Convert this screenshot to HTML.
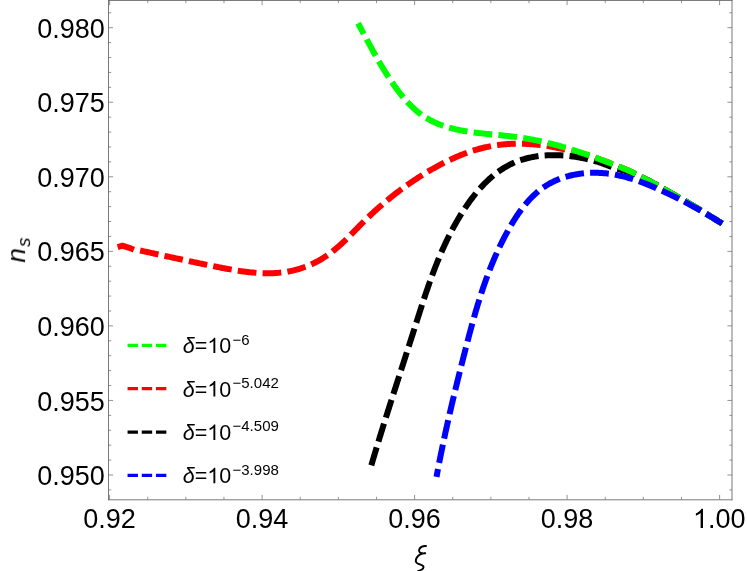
<!DOCTYPE html>
<html><head><meta charset="utf-8"><title>n_s vs xi</title>
<style>html,body{margin:0;padding:0;background:#fff;overflow:hidden}svg{display:block}text{font-family:"Liberation Sans",sans-serif;fill:#000}#txt{opacity:0.999}</style>
</head><body>
<svg width="747" height="571" viewBox="0 0 747 571">
<rect x="0" y="0" width="747" height="571" fill="#ffffff"/>
<path d="M109.60 499.50 V494.90 M109.60 0.50 V5.10 M147.73 499.50 V496.80 M147.73 0.50 V3.20 M185.85 499.50 V496.80 M185.85 0.50 V3.20 M223.98 499.50 V496.80 M223.98 0.50 V3.20 M262.10 499.50 V494.90 M262.10 0.50 V5.10 M300.23 499.50 V496.80 M300.23 0.50 V3.20 M338.35 499.50 V496.80 M338.35 0.50 V3.20 M376.48 499.50 V496.80 M376.48 0.50 V3.20 M414.60 499.50 V494.90 M414.60 0.50 V5.10 M452.73 499.50 V496.80 M452.73 0.50 V3.20 M490.85 499.50 V496.80 M490.85 0.50 V3.20 M528.98 499.50 V496.80 M528.98 0.50 V3.20 M567.10 499.50 V494.90 M567.10 0.50 V5.10 M605.23 499.50 V496.80 M605.23 0.50 V3.20 M643.35 499.50 V496.80 M643.35 0.50 V3.20 M681.47 499.50 V496.80 M681.47 0.50 V3.20 M719.60 499.50 V494.90 M719.60 0.50 V5.10 M108.50 489.91 H111.20 M732.00 489.91 H729.30 M108.50 475.00 H113.10 M732.00 475.00 H727.40 M108.50 460.09 H111.20 M732.00 460.09 H729.30 M108.50 445.18 H111.20 M732.00 445.18 H729.30 M108.50 430.27 H111.20 M732.00 430.27 H729.30 M108.50 415.36 H111.20 M732.00 415.36 H729.30 M108.50 400.45 H113.10 M732.00 400.45 H727.40 M108.50 385.54 H111.20 M732.00 385.54 H729.30 M108.50 370.63 H111.20 M732.00 370.63 H729.30 M108.50 355.72 H111.20 M732.00 355.72 H729.30 M108.50 340.81 H111.20 M732.00 340.81 H729.30 M108.50 325.90 H113.10 M732.00 325.90 H727.40 M108.50 310.99 H111.20 M732.00 310.99 H729.30 M108.50 296.08 H111.20 M732.00 296.08 H729.30 M108.50 281.17 H111.20 M732.00 281.17 H729.30 M108.50 266.26 H111.20 M732.00 266.26 H729.30 M108.50 251.35 H113.10 M732.00 251.35 H727.40 M108.50 236.44 H111.20 M732.00 236.44 H729.30 M108.50 221.53 H111.20 M732.00 221.53 H729.30 M108.50 206.62 H111.20 M732.00 206.62 H729.30 M108.50 191.71 H111.20 M732.00 191.71 H729.30 M108.50 176.80 H113.10 M732.00 176.80 H727.40 M108.50 161.89 H111.20 M732.00 161.89 H729.30 M108.50 146.98 H111.20 M732.00 146.98 H729.30 M108.50 132.07 H111.20 M732.00 132.07 H729.30 M108.50 117.16 H111.20 M732.00 117.16 H729.30 M108.50 102.25 H113.10 M732.00 102.25 H727.40 M108.50 87.34 H111.20 M732.00 87.34 H729.30 M108.50 72.43 H111.20 M732.00 72.43 H729.30 M108.50 57.52 H111.20 M732.00 57.52 H729.30 M108.50 42.61 H111.20 M732.00 42.61 H729.30 M108.50 27.70 H113.10 M732.00 27.70 H727.40 M108.50 12.79 H111.20 M732.00 12.79 H729.30" stroke="#666666" stroke-width="0.7" fill="none"/>
<path d="M108.50 0 V500.24 M108.06 0.47 H732.44 M732.00 0 V500.24 M108.06 499.80 H732.44" stroke="#666666" stroke-width="0.88" fill="none"/>
<path d="M719.60 221.99 L718.75 221.46 L717.90 220.93 L717.05 220.41 L716.20 219.88 L715.35 219.36 L714.50 218.84 L713.64 218.31 L712.79 217.80 L711.93 217.28 L711.08 216.76 L710.22 216.25 L709.37 215.72 L708.52 215.19 L707.67 214.66 L706.82 214.13 L705.97 213.61 L705.12 213.08 L704.27 212.56 L703.42 212.04 L702.56 211.52 L701.71 211.00 L700.85 210.48 L699.99 209.97 L699.14 209.44 L698.29 208.92 L697.44 208.39 L696.59 207.87 L695.73 207.35 L694.88 206.83 L694.02 206.32 L693.16 205.80 L692.31 205.29 L691.45 204.78 L690.59 204.27 L689.73 203.76 L688.86 203.25 L688.00 202.75 L687.14 202.24 L686.27 201.74 L685.41 201.24 L684.54 200.74 L683.67 200.24 L682.80 199.75 L681.93 199.25 L681.06 198.76 L680.19 198.27 L679.33 197.77 L678.46 197.27 L677.59 196.77 L676.72 196.28 L675.86 195.78 L674.99 195.29 L674.12 194.80 L673.24 194.31 L672.37 193.82 L671.50 193.33 L670.62 192.85 L669.75 192.36 L668.88 191.86 L668.02 191.36 L667.15 190.86 L666.28 190.36 L665.41 189.87 L664.54 189.38 L663.67 188.88 L662.80 188.39 L661.93 187.91 L661.05 187.42 L660.18 186.94 L659.31 186.44 L658.44 185.95 L657.57 185.46 L656.70 184.97 L655.83 184.48 L654.95 183.99 L654.08 183.51 L653.20 183.03 L652.32 182.55 L651.44 182.07 L650.56 181.60 L649.68 181.13 L648.78 180.68 L647.89 180.23 L647.00 179.78 L646.10 179.34 L645.21 178.90 L644.31 178.46 L643.41 178.02 L642.50 177.59 L641.60 177.16 L640.69 176.74 L639.79 176.31 L638.91 175.83 L638.03 175.36 L637.16 174.88 L636.28 174.40 L635.39 173.93 L634.51 173.46 L633.62 173.01 L632.73 172.55 L631.83 172.11 L630.93 171.67 L630.03 171.25 L629.12 170.83 L628.20 170.43 L627.28 170.03 L626.36 169.65 L625.44 169.26 L624.51 168.89 L623.58 168.52 L622.66 168.14 L621.73 167.77 L620.80 167.39 L619.87 167.02 L618.94 166.65 L618.02 166.28 L617.09 165.91 L616.16 165.54 L615.23 165.18 L614.30 164.81 L613.36 164.45 L612.43 164.08 L611.50 163.72 L610.57 163.36 L609.64 163.00 L608.70 162.64 L607.77 162.28 L606.84 161.92 L605.90 161.56 L604.97 161.21 L604.03 160.85 L603.10 160.50 L602.16 160.14 L601.23 159.79 L600.29 159.44 L599.35 159.09 L598.41 158.75 L597.48 158.40 L596.54 158.05 L595.60 157.71 L594.65 157.38 L593.70 157.07 L592.75 156.77 L591.80 156.46 L590.84 156.16 L589.89 155.86 L588.94 155.56 L587.98 155.27 L587.03 154.97 L586.07 154.68 L585.11 154.39 L584.15 154.12 L583.19 153.86 L582.22 153.60 L581.25 153.34 L580.29 153.08 L579.32 152.83 L578.35 152.58 L577.38 152.33 L576.41 152.08 L575.44 151.84 L574.47 151.60 L573.50 151.37 L572.53 151.14 L571.55 150.91 L570.58 150.69 L569.60 150.47 L568.63 150.25 L567.65 150.03 L566.67 149.82 L565.70 149.60 L564.72 149.39 L563.74 149.18 L562.76 148.97 L561.79 148.76 L560.81 148.56 L559.83 148.36 L558.85 148.16 L557.87 147.97 L556.89 147.77 L555.91 147.57 L554.93 147.38 L553.94 147.19 L552.96 147.00 L551.98 146.81 L551.00 146.63 L550.01 146.44 L549.03 146.27 L548.04 146.09 L547.06 145.94 L546.07 145.79 L545.08 145.64 L544.09 145.50 L543.10 145.36 L542.11 145.23 L541.12 145.10 L540.12 145.00 L539.13 144.90 L538.13 144.80 L537.13 144.71 L536.14 144.61 L535.14 144.53 L534.15 144.44 L533.15 144.36 L532.15 144.28 L531.16 144.21 L530.16 144.14 L529.16 144.07 L528.16 144.01 L527.16 143.96 L526.16 143.91 L525.17 143.86 L524.17 143.83 L523.17 143.79 L522.17 143.77 L521.17 143.74 L520.17 143.73 L519.17 143.72 L518.17 143.72 L517.17 143.72 L516.17 143.73 L515.17 143.75 L514.17 143.77 L513.17 143.79 L512.17 143.83 L511.17 143.87 L510.17 143.92 L509.17 143.97 L508.17 144.03 L507.18 144.10 L506.18 144.17 L505.18 144.25 L504.19 144.33 L503.19 144.43 L502.20 144.53 L501.20 144.63 L500.21 144.75 L499.21 144.87 L498.22 144.99 L497.23 145.13 L496.24 145.27 L495.25 145.42 L494.27 145.57 L493.28 145.74 L492.29 145.91 L491.31 146.08 L490.33 146.27 L489.34 146.46 L488.36 146.66 L487.39 146.86 L486.41 147.07 L485.43 147.29 L484.46 147.52 L483.49 147.75 L482.52 147.99 L481.55 148.24 L480.58 148.49 L479.61 148.75 L478.65 149.01 L477.69 149.28 L476.72 149.56 L475.77 149.85 L474.81 150.14 L473.85 150.43 L472.90 150.73 L471.95 151.04 L471.00 151.35 L470.05 151.67 L469.10 152.00 L468.16 152.33 L467.22 152.66 L466.28 153.00 L465.34 153.35 L464.40 153.70 L463.47 154.05 L462.54 154.42 L461.61 154.78 L460.68 155.15 L459.75 155.53 L458.83 155.91 L457.90 156.30 L456.98 156.69 L456.06 157.08 L455.15 157.48 L454.23 157.88 L453.32 158.29 L452.41 158.70 L451.50 159.12 L450.59 159.54 L449.69 159.97 L448.78 160.40 L447.88 160.83 L446.98 161.27 L446.09 161.71 L445.19 162.15 L444.30 162.60 L443.41 163.05 L442.52 163.51 L441.63 163.97 L440.74 164.43 L439.86 164.90 L438.98 165.37 L438.09 165.85 L437.22 166.32 L436.34 166.80 L435.46 167.29 L434.59 167.78 L433.72 168.27 L432.85 168.76 L431.98 169.26 L431.12 169.76 L430.25 170.26 L429.39 170.76 L428.53 171.27 L427.67 171.78 L426.81 172.30 L425.95 172.81 L425.10 173.33 L424.25 173.86 L423.40 174.38 L422.55 174.91 L421.70 175.44 L420.85 175.97 L420.01 176.51 L419.16 177.04 L418.32 177.58 L417.48 178.13 L416.64 178.67 L415.81 179.22 L414.97 179.77 L414.14 180.32 L413.31 180.88 L412.48 181.44 L411.65 182.00 L410.82 182.56 L410.00 183.13 L409.18 183.69 L408.35 184.26 L407.53 184.84 L406.72 185.41 L405.90 185.99 L405.09 186.57 L404.27 187.15 L403.46 187.74 L402.65 188.33 L401.85 188.92 L401.04 189.51 L400.24 190.11 L399.44 190.70 L398.64 191.30 L397.84 191.91 L397.04 192.51 L396.25 193.12 L395.46 193.73 L394.67 194.34 L393.88 194.96 L393.09 195.58 L392.31 196.19 L391.52 196.82 L390.74 197.44 L389.96 198.07 L389.19 198.70 L388.41 199.33 L387.64 199.96 L386.87 200.60 L386.10 201.24 L385.33 201.88 L384.56 202.52 L383.80 203.17 L383.04 203.82 L382.28 204.47 L381.52 205.12 L380.76 205.77 L380.01 206.43 L379.26 207.09 L378.51 207.75 L377.76 208.41 L377.01 209.08 L376.27 209.75 L375.53 210.42 L374.79 211.09 L374.05 211.76 L373.31 212.44 L372.58 213.12 L371.85 213.80 L371.12 214.48 L370.39 215.17 L369.66 215.86 L368.94 216.55 L368.21 217.24 L367.49 217.93 L366.78 218.63 L366.06 219.33 L365.35 220.02 L364.63 220.73 L363.92 221.43 L363.21 222.14 L362.51 222.84 L361.80 223.55 L361.10 224.26 L360.40 224.97 L359.69 225.69 L358.99 226.40 L358.29 227.11 L357.59 227.83 L356.89 228.54 L356.20 229.26 L355.50 229.97 L354.80 230.69 L354.10 231.40 L353.40 232.12 L352.70 232.83 L352.00 233.54 L351.29 234.26 L350.59 234.97 L349.88 235.67 L349.18 236.38 L348.47 237.09 L347.76 237.79 L347.04 238.49 L346.33 239.19 L345.61 239.89 L344.89 240.58 L344.17 241.28 L343.45 241.96 L342.72 242.65 L341.99 243.33 L341.25 244.01 L340.51 244.68 L339.77 245.35 L339.02 246.02 L338.27 246.68 L337.52 247.34 L336.76 247.99 L336.00 248.63 L335.23 249.27 L334.46 249.91 L333.68 250.54 L332.90 251.16 L332.11 251.78 L331.32 252.39 L330.52 252.99 L329.71 253.58 L328.91 254.17 L328.09 254.75 L327.27 255.32 L326.45 255.89 L325.61 256.44 L324.78 256.99 L323.93 257.53 L323.09 258.06 L322.23 258.58 L321.38 259.10 L320.51 259.60 L319.65 260.10 L318.77 260.59 L317.90 261.07 L317.01 261.54 L316.13 262.00 L315.24 262.45 L314.34 262.90 L313.44 263.34 L312.54 263.76 L311.63 264.18 L310.71 264.59 L309.80 264.99 L308.88 265.38 L307.95 265.76 L307.03 266.14 L306.09 266.50 L305.16 266.85 L304.22 267.20 L303.28 267.53 L302.33 267.86 L301.39 268.18 L300.43 268.49 L299.48 268.78 L298.52 269.07 L297.56 269.35 L296.60 269.62 L295.63 269.88 L294.66 270.13 L293.69 270.37 L292.72 270.60 L291.74 270.82 L290.77 271.03 L289.79 271.23 L288.81 271.42 L287.82 271.60 L286.84 271.77 L285.85 271.93 L284.86 272.08 L283.87 272.23 L282.88 272.36 L281.89 272.48 L280.89 272.59 L279.90 272.70 L278.90 272.79 L277.91 272.88 L276.91 272.95 L275.91 273.02 L274.91 273.08 L273.92 273.13 L272.92 273.18 L271.92 273.21 L270.92 273.24 L269.92 273.26 L268.92 273.27 L267.92 273.28 L266.92 273.28 L265.92 273.27 L264.92 273.25 L263.92 273.23 L262.92 273.20 L261.92 273.16 L260.92 273.12 L259.92 273.07 L258.92 273.02 L257.93 272.96 L256.93 272.89 L255.93 272.82 L254.93 272.74 L253.94 272.66 L252.94 272.57 L251.94 272.48 L250.95 272.38 L249.95 272.28 L248.96 272.17 L247.97 272.06 L246.97 271.94 L245.98 271.82 L244.99 271.70 L244.00 271.57 L243.01 271.43 L242.02 271.30 L241.03 271.16 L240.04 271.01 L239.05 270.87 L238.06 270.71 L237.07 270.56 L236.08 270.40 L235.10 270.24 L234.11 270.08 L233.12 269.91 L232.14 269.74 L231.15 269.57 L230.17 269.40 L229.18 269.22 L228.20 269.05 L227.22 268.87 L226.23 268.68 L225.25 268.50 L224.27 268.31 L223.28 268.13 L222.30 267.94 L221.32 267.75 L220.34 267.56 L219.36 267.36 L218.38 267.17 L217.40 266.97 L216.42 266.78 L215.43 266.58 L214.45 266.38 L213.47 266.19 L212.49 265.99 L211.51 265.79 L210.53 265.59 L209.55 265.39 L208.57 265.19 L207.60 264.99 L206.62 264.79 L205.64 264.58 L204.66 264.38 L203.68 264.18 L202.70 263.98 L201.72 263.77 L200.74 263.57 L199.76 263.37 L198.78 263.16 L197.80 262.96 L196.82 262.75 L195.85 262.55 L194.87 262.34 L193.89 262.13 L192.91 261.93 L191.93 261.72 L190.95 261.51 L189.98 261.31 L189.00 261.10 L188.02 260.89 L187.04 260.68 L186.06 260.47 L185.09 260.26 L184.11 260.06 L183.13 259.85 L182.15 259.64 L181.17 259.43 L180.20 259.22 L179.22 259.01 L178.24 258.80 L177.26 258.59 L176.29 258.37 L175.31 258.16 L174.33 257.95 L173.35 257.74 L172.38 257.53 L171.40 257.32 L170.42 257.11 L169.44 256.89 L168.47 256.68 L167.49 256.47 L166.51 256.26 L165.54 256.05 L164.56 255.83 L163.58 255.62 L162.60 255.41 L161.63 255.20 L160.65 254.98 L159.67 254.77 L158.70 254.56 L157.72 254.35 L156.74 254.13 L155.76 253.92 L154.79 253.71 L153.81 253.50 L152.83 253.28 L151.86 253.07 L150.88 252.86 L149.90 252.65 L148.92 252.43 L147.95 252.22 L146.97 252.01 L145.99 251.80 L145.01 251.58 L144.04 251.37 L143.06 251.16 L142.08 250.95 L141.11 250.74 L140.13 250.53 L139.15 250.32 L138.17 250.10 L137.20 249.89 L136.22 249.68 L135.24 249.47 L134.26 249.26 L133.29 249.05 L132.31 248.84 L131.33 248.63 L130.46 248.25 L129.50 247.94 L128.55 247.64 L127.60 247.34 L126.64 247.04 L125.69 246.74 L124.74 246.44 L123.78 246.14 L122.83 245.84 L121.86 245.85 L120.90 246.12 L120.51 246.23" fill="none" stroke="#ff0000" stroke-width="6.00" stroke-dasharray="12.75 12.18" stroke-dashoffset="0.00" stroke-linecap="square" stroke-linejoin="miter"/>
<path d="M719.60 221.99 L718.75 221.46 L717.90 220.93 L717.05 220.41 L716.20 219.88 L715.35 219.36 L714.50 218.84 L713.64 218.31 L712.79 217.80 L711.93 217.28 L711.08 216.76 L710.22 216.25 L709.37 215.72 L708.52 215.19 L707.67 214.66 L706.82 214.13 L705.97 213.61 L705.12 213.08 L704.27 212.56 L703.42 212.04 L702.56 211.52 L701.71 211.00 L700.85 210.48 L699.99 209.97 L699.14 209.44 L698.29 208.92 L697.44 208.39 L696.59 207.87 L695.73 207.35 L694.88 206.83 L694.02 206.32 L693.16 205.80 L692.31 205.29 L691.45 204.78 L690.59 204.27 L689.73 203.76 L688.86 203.25 L688.00 202.75 L687.14 202.24 L686.27 201.74 L685.41 201.24 L684.54 200.74 L683.67 200.24 L682.80 199.75 L681.93 199.25 L681.06 198.76 L680.19 198.27 L679.33 197.77 L678.46 197.27 L677.59 196.77 L676.72 196.28 L675.86 195.78 L674.99 195.29 L674.12 194.80 L673.24 194.31 L672.37 193.82 L671.50 193.33 L670.62 192.85 L669.75 192.36 L668.88 191.86 L668.02 191.36 L667.15 190.86 L666.28 190.36 L665.41 189.87 L664.54 189.38 L663.67 188.88 L662.80 188.39 L661.93 187.91 L661.05 187.42 L660.18 186.94 L659.31 186.44 L658.44 185.95 L657.57 185.46 L656.70 184.97 L655.83 184.48 L654.95 183.99 L654.08 183.51 L653.20 183.03 L652.32 182.55 L651.44 182.07 L650.56 181.60 L649.68 181.13 L648.78 180.68 L647.89 180.23 L646.98 179.81 L646.07 179.40 L645.16 178.98 L644.25 178.57 L643.34 178.17 L642.42 177.76 L641.51 177.36 L640.59 176.97 L639.67 176.57 L638.77 176.14 L637.86 175.71 L636.96 175.29 L636.05 174.86 L635.14 174.44 L634.23 174.03 L633.32 173.63 L632.39 173.26 L631.45 172.91 L630.51 172.58 L629.56 172.26 L628.61 171.96 L627.65 171.66 L626.70 171.37 L625.73 171.09 L624.77 170.82 L623.81 170.56 L622.85 170.29 L621.88 170.02 L620.92 169.75 L619.95 169.48 L618.99 169.22 L618.03 168.96 L617.06 168.69 L616.12 168.37 L615.17 168.03 L614.23 167.70 L613.28 167.37 L612.34 167.05 L611.40 166.72 L610.45 166.38 L609.51 166.05 L608.57 165.71 L607.63 165.37 L606.69 165.03 L605.75 164.68 L604.81 164.33 L603.88 163.99 L602.94 163.64 L602.00 163.30 L601.06 162.97 L600.11 162.64 L599.16 162.32 L598.21 162.01 L597.25 161.72 L596.29 161.44 L595.33 161.17 L594.37 160.91 L593.40 160.65 L592.43 160.40 L591.47 160.15 L590.50 159.90 L589.52 159.66 L588.55 159.43 L587.58 159.20 L586.60 158.97 L585.63 158.76 L584.65 158.54 L583.67 158.34 L582.69 158.14 L581.71 157.94 L580.73 157.75 L579.75 157.57 L578.76 157.39 L577.78 157.22 L576.79 157.05 L575.81 156.90 L574.82 156.74 L573.83 156.60 L572.84 156.46 L571.85 156.33 L570.85 156.20 L569.86 156.08 L568.87 155.97 L567.87 155.86 L566.88 155.77 L565.88 155.68 L564.89 155.59 L563.89 155.51 L562.89 155.44 L561.89 155.38 L560.89 155.33 L559.90 155.28 L558.90 155.24 L557.90 155.20 L556.90 155.18 L555.90 155.16 L554.90 155.15 L553.90 155.14 L552.90 155.15 L551.90 155.16 L550.90 155.18 L549.90 155.21 L548.90 155.24 L547.90 155.29 L546.90 155.34 L545.90 155.40 L544.91 155.47 L543.91 155.55 L542.91 155.63 L541.92 155.73 L540.92 155.83 L539.93 155.94 L538.94 156.07 L537.94 156.20 L536.95 156.33 L535.97 156.48 L534.98 156.64 L533.99 156.81 L533.01 156.99 L532.03 157.17 L531.04 157.37 L530.07 157.58 L529.09 157.79 L528.12 158.02 L527.14 158.26 L526.18 158.51 L525.21 158.76 L524.25 159.03 L523.29 159.31 L522.33 159.60 L521.38 159.90 L520.43 160.22 L519.48 160.54 L518.54 160.88 L517.60 161.22 L516.67 161.58 L515.74 161.95 L514.81 162.33 L513.89 162.73 L512.98 163.13 L512.07 163.55 L511.17 163.98 L510.27 164.42 L509.38 164.87 L508.49 165.33 L507.61 165.80 L506.73 166.29 L505.87 166.78 L505.00 167.29 L504.15 167.80 L503.29 168.33 L502.45 168.86 L501.61 169.41 L500.78 169.96 L499.95 170.52 L499.13 171.10 L498.32 171.68 L497.51 172.27 L496.71 172.86 L495.91 173.47 L495.12 174.08 L494.34 174.71 L493.56 175.34 L492.79 175.97 L492.03 176.62 L491.27 177.27 L490.52 177.93 L489.77 178.59 L489.03 179.26 L488.29 179.94 L487.57 180.63 L486.84 181.32 L486.13 182.02 L485.42 182.72 L484.71 183.43 L484.01 184.14 L483.32 184.86 L482.63 185.59 L481.94 186.32 L481.27 187.05 L480.59 187.79 L479.93 188.54 L479.27 189.29 L478.61 190.04 L477.96 190.80 L477.31 191.56 L476.67 192.33 L476.03 193.10 L475.40 193.88 L474.78 194.66 L474.16 195.44 L473.54 196.23 L472.93 197.02 L472.32 197.81 L471.72 198.61 L471.12 199.41 L470.52 200.22 L469.93 201.02 L469.35 201.84 L468.77 202.65 L468.19 203.47 L467.62 204.28 L467.05 205.11 L466.48 205.93 L465.92 206.76 L465.36 207.59 L464.81 208.42 L464.26 209.26 L463.71 210.10 L463.17 210.94 L462.63 211.78 L462.10 212.62 L461.56 213.47 L461.04 214.32 L460.51 215.17 L459.99 216.02 L459.47 216.88 L458.96 217.74 L458.44 218.59 L457.94 219.46 L457.43 220.32 L456.93 221.18 L456.43 222.05 L455.94 222.92 L455.45 223.79 L454.96 224.66 L454.47 225.54 L453.99 226.41 L453.51 227.29 L453.04 228.17 L452.56 229.05 L452.09 229.94 L451.63 230.82 L451.16 231.71 L450.70 232.60 L450.25 233.49 L449.79 234.38 L449.34 235.27 L448.90 236.16 L448.45 237.06 L448.01 237.96 L447.57 238.85 L447.13 239.75 L446.70 240.65 L446.27 241.56 L445.84 242.46 L445.42 243.37 L444.99 244.27 L444.57 245.18 L444.16 246.09 L443.74 247.00 L443.33 247.91 L442.92 248.82 L442.51 249.74 L442.11 250.65 L441.71 251.57 L441.31 252.48 L440.91 253.40 L440.52 254.32 L440.13 255.24 L439.74 256.16 L439.35 257.08 L438.97 258.01 L438.58 258.93 L438.20 259.86 L437.83 260.78 L437.45 261.71 L437.08 262.64 L436.71 263.56 L436.34 264.49 L435.97 265.42 L435.60 266.36 L435.24 267.29 L434.88 268.22 L434.52 269.15 L434.16 270.09 L433.81 271.02 L433.45 271.96 L433.10 272.89 L432.75 273.83 L432.40 274.77 L432.05 275.70 L431.71 276.64 L431.37 277.58 L431.02 278.52 L430.68 279.46 L430.35 280.40 L430.01 281.34 L429.67 282.29 L429.34 283.23 L429.01 284.17 L428.67 285.12 L428.34 286.06 L428.02 287.00 L427.69 287.95 L427.36 288.89 L427.04 289.84 L426.71 290.79 L426.39 291.73 L426.07 292.68 L425.75 293.63 L425.43 294.57 L425.11 295.52 L424.79 296.47 L424.48 297.42 L424.16 298.37 L423.85 299.32 L423.53 300.27 L423.22 301.22 L422.91 302.17 L422.60 303.12 L422.29 304.07 L421.98 305.02 L421.67 305.97 L421.36 306.92 L421.05 307.87 L420.74 308.82 L420.44 309.78 L420.13 310.73 L419.83 311.68 L419.52 312.63 L419.21 313.58 L418.91 314.54 L418.61 315.49 L418.30 316.44 L418.00 317.39 L417.69 318.35 L417.39 319.30 L417.09 320.25 L416.79 321.21 L416.48 322.16 L416.18 323.11 L415.88 324.07 L415.57 325.02 L415.27 325.97 L414.97 326.92 L414.67 327.88 L414.36 328.83 L414.06 329.78 L413.76 330.74 L413.45 331.69 L413.15 332.64 L412.85 333.59 L412.54 334.55 L412.24 335.50 L411.93 336.45 L411.63 337.40 L411.32 338.36 L411.02 339.31 L410.71 340.26 L410.41 341.21 L410.10 342.17 L409.80 343.12 L409.49 344.07 L409.19 345.02 L408.88 345.98 L408.57 346.93 L408.27 347.88 L407.96 348.83 L407.66 349.78 L407.35 350.74 L407.04 351.69 L406.74 352.64 L406.43 353.59 L406.12 354.54 L405.82 355.49 L405.51 356.45 L405.20 357.40 L404.89 358.35 L404.59 359.30 L404.28 360.25 L403.97 361.20 L403.67 362.16 L403.36 363.11 L403.05 364.06 L402.75 365.01 L402.44 365.96 L402.13 366.91 L401.82 367.87 L401.52 368.82 L401.21 369.77 L400.90 370.72 L400.59 371.67 L400.29 372.62 L399.98 373.58 L399.67 374.53 L399.37 375.48 L399.06 376.43 L398.75 377.38 L398.44 378.33 L398.14 379.29 L397.83 380.24 L397.52 381.19 L397.22 382.14 L396.91 383.09 L396.60 384.04 L396.30 385.00 L395.99 385.95 L395.69 386.90 L395.38 387.85 L395.07 388.80 L394.77 389.76 L394.46 390.71 L394.15 391.66 L393.85 392.61 L393.54 393.57 L393.24 394.52 L392.93 395.47 L392.63 396.42 L392.32 397.37 L392.02 398.33 L391.71 399.28 L391.41 400.23 L391.10 401.18 L390.80 402.14 L390.50 403.09 L390.19 404.04 L389.89 405.00 L389.59 405.95 L389.28 406.90 L388.98 407.85 L388.68 408.81 L388.37 409.76 L388.07 410.71 L387.77 411.67 L387.47 412.62 L387.17 413.57 L386.86 414.53 L386.56 415.48 L386.26 416.43 L385.96 417.39 L385.66 418.34 L385.36 419.30 L385.06 420.25 L384.76 421.20 L384.46 422.16 L384.16 423.11 L383.86 424.07 L383.57 425.02 L383.27 425.97 L382.97 426.93 L382.67 427.88 L382.37 428.84 L382.08 429.79 L381.78 430.75 L381.48 431.70 L381.19 432.66 L380.89 433.61 L380.60 434.57 L380.30 435.52 L380.01 436.48 L379.71 437.44 L379.42 438.39 L379.12 439.35 L378.83 440.30 L378.54 441.26 L378.25 442.22 L377.95 443.17 L377.66 444.13 L377.37 445.09 L377.08 446.04 L376.79 447.00 L376.50 447.96 L376.21 448.91 L375.92 449.87 L375.63 450.83 L375.34 451.79 L375.06 452.74 L374.77 453.70 L374.48 454.66 L374.19 455.62 L373.91 456.58 L373.62 457.53 L373.34 458.49 L373.05 459.45 L372.77 460.41 L372.48 461.37 L372.20 462.33 L372.09 462.71" fill="none" stroke="#000000" stroke-width="6.00" stroke-dasharray="12.75 12.18" stroke-dashoffset="0.00" stroke-linecap="square" stroke-linejoin="miter"/>
<path d="M719.60 221.99 L718.75 221.46 L717.90 220.93 L717.05 220.41 L716.20 219.88 L715.35 219.36 L714.50 218.84 L713.64 218.31 L712.79 217.80 L711.93 217.28 L711.08 216.76 L710.22 216.25 L709.37 215.72 L708.52 215.19 L707.67 214.66 L706.82 214.13 L705.97 213.61 L705.12 213.08 L704.27 212.56 L703.42 212.04 L702.56 211.52 L701.71 211.00 L700.85 210.48 L699.99 209.97 L699.14 209.44 L698.29 208.92 L697.44 208.39 L696.59 207.87 L695.73 207.35 L694.88 206.83 L694.02 206.32 L693.16 205.80 L692.31 205.29 L691.45 204.78 L690.59 204.27 L689.73 203.76 L688.86 203.25 L688.00 202.75 L687.14 202.24 L686.27 201.74 L685.41 201.24 L684.54 200.74 L683.67 200.24 L682.80 199.75 L681.93 199.25 L681.06 198.76 L680.19 198.27 L679.33 197.77 L678.46 197.27 L677.59 196.77 L676.72 196.28 L675.86 195.78 L674.99 195.29 L674.12 194.80 L673.24 194.31 L672.37 193.82 L671.50 193.33 L670.62 192.85 L669.75 192.36 L668.88 191.86 L668.02 191.36 L667.15 190.86 L666.28 190.36 L665.41 189.87 L664.54 189.38 L663.67 188.88 L662.80 188.39 L661.93 187.91 L661.05 187.42 L660.18 186.94 L659.31 186.44 L658.44 185.95 L657.57 185.46 L656.70 184.97 L655.83 184.48 L654.95 183.99 L654.08 183.51 L653.20 183.03 L652.32 182.55 L651.44 182.07 L650.56 181.60 L649.68 181.13 L648.78 180.68 L647.89 180.23 L647.00 179.78 L646.10 179.34 L645.21 178.90 L644.31 178.46 L643.41 178.02 L642.50 177.59 L641.60 177.16 L640.69 176.74 L639.79 176.31 L638.91 175.83 L638.03 175.36 L637.16 174.88 L636.28 174.40 L635.39 173.93 L634.51 173.46 L633.62 173.01 L632.73 172.55 L631.83 172.11 L630.93 171.67 L630.03 171.25 L629.12 170.83 L628.20 170.43 L627.28 170.03 L626.36 169.65 L625.44 169.26 L624.51 168.89 L623.58 168.52 L622.66 168.14 L621.73 167.77 L620.80 167.39 L619.87 167.02 L618.94 166.65 L618.02 166.28 L617.09 165.91 L616.16 165.54 L615.23 165.18 L614.30 164.81 L613.36 164.45 L612.43 164.08 L611.50 163.72 L610.57 163.36 L609.64 163.00 L608.70 162.64 L607.77 162.28 L606.84 161.92 L605.90 161.56 L604.97 161.21 L604.03 160.85 L603.10 160.50 L602.16 160.14 L601.23 159.79 L600.29 159.44 L599.35 159.09 L598.41 158.75 L597.48 158.40 L596.54 158.05 L595.60 157.71 L594.66 157.37 L593.72 157.03 L592.78 156.69 L591.84 156.35 L590.90 156.01 L589.95 155.68 L589.01 155.35 L588.07 155.02 L587.12 154.69 L586.18 154.36 L585.23 154.03 L584.29 153.71 L583.34 153.38 L582.39 153.06 L581.45 152.74 L580.50 152.43 L579.55 152.11 L578.60 151.80 L577.65 151.48 L576.70 151.17 L575.75 150.87 L574.79 150.56 L573.84 150.26 L572.89 149.96 L571.93 149.66 L570.98 149.36 L570.02 149.06 L569.07 148.77 L568.11 148.48 L567.15 148.19 L566.20 147.91 L565.24 147.62 L564.28 147.34 L563.32 147.06 L562.36 146.79 L561.39 146.51 L560.43 146.24 L559.47 145.97 L558.50 145.70 L557.54 145.44 L556.57 145.18 L555.61 144.92 L554.64 144.66 L553.67 144.41 L552.71 144.16 L551.74 143.91 L550.77 143.67 L549.80 143.42 L548.83 143.19 L547.86 142.95 L546.88 142.71 L545.91 142.48 L544.94 142.26 L543.96 142.03 L542.99 141.81 L542.01 141.59 L541.04 141.37 L540.06 141.16 L539.08 140.95 L538.10 140.74 L537.12 140.54 L536.14 140.34 L535.16 140.14 L534.18 139.95 L533.20 139.76 L532.22 139.57 L531.24 139.39 L530.25 139.20 L529.27 139.03 L528.28 138.85 L527.30 138.68 L526.31 138.51 L525.33 138.35 L524.34 138.19 L523.35 138.03 L522.36 137.88 L521.37 137.73 L520.39 137.58 L519.40 137.44 L518.41 137.30 L517.41 137.16 L516.42 137.03 L515.43 136.90 L514.44 136.77 L513.45 136.65 L512.45 136.53 L511.46 136.41 L510.47 136.30 L509.47 136.19 L508.48 136.07 L507.49 135.97 L506.49 135.86 L505.50 135.76 L504.50 135.65 L503.51 135.55 L502.51 135.45 L501.52 135.35 L500.52 135.25 L499.53 135.16 L498.53 135.06 L497.54 134.97 L496.54 134.87 L495.55 134.77 L494.55 134.68 L493.55 134.58 L492.56 134.49 L491.56 134.39 L490.57 134.30 L489.57 134.20 L488.58 134.10 L487.58 134.00 L486.59 133.90 L485.59 133.80 L484.60 133.70 L483.60 133.59 L482.61 133.49 L481.62 133.38 L480.62 133.27 L479.63 133.16 L478.63 133.04 L477.64 132.92 L476.65 132.80 L475.66 132.68 L474.66 132.55 L473.67 132.43 L472.68 132.29 L471.69 132.16 L470.70 132.02 L469.71 131.87 L468.72 131.72 L467.73 131.57 L466.75 131.42 L465.76 131.25 L464.77 131.09 L463.79 130.92 L462.80 130.74 L461.82 130.56 L460.84 130.37 L459.86 130.18 L458.88 129.98 L457.90 129.77 L456.92 129.56 L455.94 129.35 L454.97 129.12 L454.00 128.89 L453.03 128.65 L452.06 128.41 L451.09 128.15 L450.12 127.89 L449.16 127.62 L448.20 127.35 L447.24 127.06 L446.29 126.77 L445.33 126.47 L444.38 126.16 L443.43 125.84 L442.49 125.51 L441.55 125.17 L440.61 124.82 L439.68 124.47 L438.75 124.10 L437.82 123.73 L436.90 123.34 L435.98 122.94 L435.06 122.54 L434.16 122.12 L433.25 121.69 L432.35 121.25 L431.46 120.80 L430.57 120.34 L429.69 119.87 L428.81 119.39 L427.94 118.89 L427.08 118.39 L426.22 117.87 L425.37 117.35 L424.53 116.81 L423.70 116.26 L422.87 115.70 L422.05 115.13 L421.23 114.55 L420.43 113.95 L419.63 113.35 L418.84 112.74 L418.06 112.11 L417.29 111.48 L416.52 110.84 L415.76 110.19 L415.01 109.53 L414.26 108.86 L413.53 108.18 L412.80 107.50 L412.07 106.81 L411.36 106.11 L410.65 105.41 L409.94 104.70 L409.24 103.98 L408.55 103.26 L407.87 102.53 L407.19 101.80 L406.52 101.06 L405.85 100.31 L405.19 99.56 L404.53 98.81 L403.88 98.05 L403.24 97.28 L402.60 96.51 L401.96 95.74 L401.33 94.96 L400.71 94.18 L400.09 93.40 L399.47 92.61 L398.86 91.82 L398.26 91.02 L397.66 90.22 L397.06 89.42 L396.47 88.62 L395.88 87.81 L395.29 87.00 L394.71 86.19 L394.13 85.37 L393.56 84.55 L392.99 83.73 L392.42 82.91 L391.85 82.08 L391.29 81.25 L390.73 80.42 L390.18 79.59 L389.63 78.76 L389.08 77.92 L388.53 77.08 L387.99 76.24 L387.45 75.40 L386.91 74.56 L386.37 73.72 L385.84 72.87 L385.31 72.02 L384.78 71.18 L384.25 70.33 L383.73 69.47 L383.21 68.62 L382.69 67.77 L382.17 66.91 L381.65 66.05 L381.14 65.19 L380.63 64.34 L380.12 63.47 L379.62 62.61 L379.11 61.75 L378.61 60.88 L378.11 60.02 L377.61 59.15 L377.11 58.28 L376.62 57.42 L376.12 56.55 L375.63 55.68 L375.14 54.80 L374.65 53.93 L374.16 53.06 L373.67 52.19 L373.19 51.31 L372.71 50.44 L372.22 49.56 L371.74 48.68 L371.26 47.81 L370.78 46.93 L370.30 46.05 L369.82 45.17 L369.35 44.29 L368.87 43.42 L368.40 42.54 L367.92 41.66 L367.45 40.78 L366.97 39.90 L366.50 39.01 L366.02 38.13 L365.55 37.25 L365.08 36.37 L364.60 35.49 L364.13 34.61 L363.66 33.73 L363.19 32.85 L362.71 31.97 L362.24 31.09 L361.77 30.21 L361.29 29.32 L360.82 28.44 L360.34 27.56 L359.87 26.68 L359.45 25.90" fill="none" stroke="#00ff00" stroke-width="6.00" stroke-dasharray="12.75 12.18" stroke-dashoffset="0.00" stroke-linecap="square" stroke-linejoin="miter"/>
<path d="M719.60 221.99 L718.75 221.46 L717.90 220.93 L717.05 220.41 L716.20 219.88 L715.35 219.36 L714.50 218.84 L713.64 218.31 L712.79 217.80 L711.93 217.28 L711.08 216.76 L710.22 216.25 L709.36 215.73 L708.50 215.22 L707.64 214.71 L706.78 214.20 L705.92 213.70 L705.06 213.19 L704.19 212.69 L703.33 212.18 L702.46 211.68 L701.60 211.18 L700.73 210.69 L699.86 210.19 L698.99 209.70 L698.12 209.21 L697.25 208.71 L696.38 208.23 L695.50 207.74 L694.63 207.25 L693.75 206.77 L692.88 206.29 L692.00 205.81 L691.12 205.33 L690.24 204.85 L689.36 204.38 L688.48 203.90 L687.60 203.43 L686.72 202.96 L685.83 202.49 L684.95 202.03 L684.06 201.56 L683.18 201.10 L682.29 200.64 L681.40 200.18 L680.51 199.73 L679.62 199.27 L678.73 198.82 L677.84 198.37 L676.94 197.92 L676.05 197.47 L675.15 197.02 L674.26 196.58 L673.36 196.14 L672.46 195.70 L671.56 195.26 L670.66 194.82 L669.76 194.39 L668.86 193.96 L667.96 193.53 L667.05 193.10 L666.15 192.67 L665.24 192.25 L664.34 191.83 L663.43 191.40 L662.52 190.99 L661.61 190.57 L660.70 190.16 L659.79 189.74 L658.88 189.33 L657.97 188.92 L657.05 188.52 L656.14 188.12 L655.22 187.72 L654.30 187.32 L653.39 186.92 L652.47 186.53 L651.54 186.14 L650.62 185.76 L649.70 185.38 L648.77 185.00 L647.84 184.62 L646.92 184.25 L645.99 183.88 L645.06 183.52 L644.12 183.16 L643.19 182.80 L642.25 182.45 L641.32 182.10 L640.38 181.76 L639.44 181.42 L638.49 181.08 L637.55 180.75 L636.60 180.43 L635.66 180.11 L634.71 179.79 L633.76 179.48 L632.80 179.18 L631.85 178.88 L630.89 178.58 L629.94 178.29 L628.98 178.01 L628.02 177.74 L627.05 177.46 L626.09 177.20 L625.12 176.94 L624.16 176.69 L623.19 176.45 L622.21 176.21 L621.24 175.98 L620.27 175.75 L619.29 175.54 L618.31 175.33 L617.33 175.12 L616.35 174.93 L615.37 174.74 L614.39 174.56 L613.40 174.39 L612.42 174.23 L611.43 174.07 L610.44 173.92 L609.45 173.79 L608.46 173.66 L607.46 173.53 L606.47 173.42 L605.48 173.32 L604.48 173.22 L603.48 173.14 L602.49 173.06 L601.49 172.99 L600.49 172.93 L599.49 172.88 L598.49 172.84 L597.49 172.81 L596.49 172.78 L595.49 172.77 L594.49 172.76 L593.49 172.77 L592.49 172.78 L591.49 172.80 L590.49 172.83 L589.50 172.87 L588.50 172.92 L587.50 172.98 L586.50 173.05 L585.50 173.13 L584.51 173.22 L583.51 173.31 L582.52 173.42 L581.53 173.54 L580.53 173.66 L579.54 173.80 L578.55 173.95 L577.57 174.10 L576.58 174.27 L575.60 174.45 L574.61 174.63 L573.63 174.83 L572.65 175.04 L571.68 175.26 L570.70 175.48 L569.73 175.72 L568.77 175.97 L567.80 176.23 L566.84 176.50 L565.88 176.78 L564.92 177.08 L563.97 177.38 L563.02 177.69 L562.07 178.02 L561.13 178.35 L560.19 178.70 L559.26 179.06 L558.33 179.43 L557.40 179.81 L556.48 180.20 L555.57 180.60 L554.66 181.02 L553.75 181.44 L552.86 181.88 L551.96 182.33 L551.07 182.79 L550.19 183.26 L549.32 183.74 L548.45 184.24 L547.58 184.74 L546.73 185.26 L545.88 185.79 L545.04 186.33 L544.21 186.88 L543.38 187.45 L542.56 188.02 L541.75 188.61 L540.95 189.20 L540.15 189.81 L539.37 190.43 L538.59 191.06 L537.82 191.69 L537.06 192.34 L536.30 193.00 L535.56 193.66 L534.82 194.34 L534.08 195.02 L533.36 195.71 L532.64 196.41 L531.94 197.11 L531.23 197.82 L530.54 198.54 L529.85 199.27 L529.17 200.00 L528.50 200.74 L527.84 201.49 L527.18 202.24 L526.53 203.00 L525.88 203.77 L525.24 204.54 L524.61 205.31 L523.98 206.09 L523.37 206.88 L522.75 207.67 L522.14 208.46 L521.54 209.26 L520.95 210.06 L520.36 210.87 L519.77 211.68 L519.20 212.50 L518.62 213.32 L518.05 214.14 L517.49 214.97 L516.93 215.80 L516.38 216.63 L515.83 217.47 L515.29 218.31 L514.75 219.15 L514.22 219.99 L513.69 220.84 L513.16 221.69 L512.64 222.55 L512.12 223.40 L511.61 224.26 L511.10 225.12 L510.59 225.98 L510.09 226.85 L509.59 227.71 L509.10 228.58 L508.61 229.45 L508.12 230.33 L507.63 231.20 L507.15 232.08 L506.67 232.96 L506.20 233.83 L505.72 234.72 L505.25 235.60 L504.79 236.48 L504.32 237.37 L503.86 238.26 L503.41 239.15 L502.95 240.04 L502.50 240.93 L502.05 241.82 L501.61 242.72 L501.16 243.62 L500.72 244.51 L500.29 245.41 L499.85 246.31 L499.42 247.22 L499.00 248.12 L498.57 249.03 L498.15 249.93 L497.73 250.84 L497.31 251.75 L496.90 252.66 L496.49 253.57 L496.08 254.48 L495.68 255.40 L495.27 256.31 L494.87 257.23 L494.48 258.15 L494.08 259.07 L493.69 259.99 L493.30 260.91 L492.91 261.83 L492.53 262.75 L492.15 263.68 L491.77 264.60 L491.39 265.53 L491.02 266.46 L490.65 267.39 L490.28 268.32 L489.91 269.25 L489.55 270.18 L489.19 271.11 L488.83 272.04 L488.47 272.98 L488.12 273.91 L487.77 274.85 L487.42 275.79 L487.07 276.72 L486.73 277.66 L486.38 278.60 L486.04 279.54 L485.70 280.48 L485.37 281.43 L485.03 282.37 L484.70 283.31 L484.37 284.26 L484.04 285.20 L483.72 286.15 L483.39 287.09 L483.07 288.04 L482.75 288.99 L482.43 289.93 L482.12 290.88 L481.80 291.83 L481.49 292.78 L481.18 293.73 L480.87 294.68 L480.57 295.64 L480.26 296.59 L479.96 297.54 L479.66 298.49 L479.36 299.45 L479.06 300.40 L478.76 301.36 L478.47 302.31 L478.17 303.27 L477.88 304.23 L477.59 305.18 L477.30 306.14 L477.02 307.10 L476.73 308.06 L476.45 309.02 L476.16 309.97 L475.88 310.93 L475.60 311.89 L475.32 312.85 L475.04 313.81 L474.77 314.78 L474.49 315.74 L474.22 316.70 L473.95 317.66 L473.67 318.62 L473.40 319.59 L473.13 320.55 L472.87 321.51 L472.60 322.48 L472.33 323.44 L472.07 324.40 L471.80 325.37 L471.54 326.33 L471.28 327.30 L471.01 328.26 L470.75 329.23 L470.49 330.19 L470.23 331.16 L469.98 332.13 L469.72 333.09 L469.46 334.06 L469.20 335.03 L468.95 335.99 L468.69 336.96 L468.44 337.93 L468.19 338.89 L467.93 339.86 L467.68 340.83 L467.43 341.80 L467.17 342.76 L466.92 343.73 L466.67 344.70 L466.42 345.67 L466.17 346.64 L465.92 347.60 L465.67 348.57 L465.42 349.54 L465.17 350.51 L464.92 351.48 L464.68 352.45 L464.43 353.41 L464.18 354.38 L463.93 355.35 L463.68 356.32 L463.44 357.29 L463.19 358.26 L462.94 359.23 L462.70 360.20 L462.45 361.17 L462.20 362.14 L461.96 363.11 L461.71 364.07 L461.47 365.04 L461.22 366.01 L460.98 366.98 L460.73 367.95 L460.49 368.92 L460.25 369.89 L460.00 370.86 L459.76 371.83 L459.52 372.80 L459.28 373.77 L459.04 374.74 L458.79 375.71 L458.55 376.68 L458.31 377.66 L458.07 378.63 L457.83 379.60 L457.59 380.57 L457.35 381.54 L457.11 382.51 L456.87 383.48 L456.64 384.45 L456.40 385.42 L456.16 386.39 L455.92 387.37 L455.69 388.34 L455.45 389.31 L455.22 390.28 L454.98 391.25 L454.75 392.23 L454.51 393.20 L454.28 394.17 L454.04 395.14 L453.81 396.11 L453.58 397.09 L453.35 398.06 L453.11 399.03 L452.88 400.01 L452.65 400.98 L452.42 401.95 L452.19 402.92 L451.96 403.90 L451.73 404.87 L451.50 405.84 L451.28 406.82 L451.05 407.79 L450.82 408.77 L450.60 409.74 L450.37 410.71 L450.14 411.69 L449.92 412.66 L449.69 413.64 L449.47 414.61 L449.25 415.59 L449.02 416.56 L448.80 417.54 L448.58 418.51 L448.36 419.49 L448.14 420.46 L447.92 421.44 L447.70 422.41 L447.48 423.39 L447.26 424.36 L447.04 425.34 L446.83 426.32 L446.61 427.29 L446.39 428.27 L446.18 429.25 L445.96 430.22 L445.75 431.20 L445.53 432.18 L445.32 433.15 L445.11 434.13 L444.90 435.11 L444.69 436.09 L444.47 437.06 L444.26 438.04 L444.06 439.02 L443.85 440.00 L443.64 440.97 L443.43 441.95 L443.22 442.93 L443.02 443.91 L442.81 444.89 L442.61 445.87 L442.40 446.85 L442.20 447.83 L442.00 448.80 L441.80 449.78 L441.60 450.76 L441.40 451.74 L441.20 452.72 L441.00 453.70 L440.80 454.68 L440.60 455.66 L440.40 456.64 L440.21 457.62 L440.01 458.60 L439.82 459.59 L439.62 460.57 L439.43 461.55 L439.24 462.53 L439.05 463.51 L438.85 464.49 L438.66 465.47 L438.48 466.46 L438.29 467.44 L438.10 468.42 L437.91 469.40 L437.73 470.39 L437.54 471.37 L437.36 472.35 L437.17 473.33 L437.05 473.97" fill="none" stroke="#0000ff" stroke-width="6.00" stroke-dasharray="12.75 12.18" stroke-dashoffset="0.00" stroke-linecap="square" stroke-linejoin="miter"/>
<g id="txt">
<text x="104.8" y="485.0" font-size="27" text-anchor="end">0.950</text>
<text x="104.8" y="410.5" font-size="27" text-anchor="end">0.955</text>
<text x="104.8" y="335.9" font-size="27" text-anchor="end">0.960</text>
<text x="104.8" y="261.4" font-size="27" text-anchor="end">0.965</text>
<text x="104.8" y="186.8" font-size="27" text-anchor="end">0.970</text>
<text x="104.8" y="112.3" font-size="27" text-anchor="end">0.975</text>
<text x="104.8" y="37.7" font-size="27" text-anchor="end">0.980</text>
<text x="109.6" y="528" font-size="27" text-anchor="middle">0.92</text>
<text x="262.1" y="528" font-size="27" text-anchor="middle">0.94</text>
<text x="414.6" y="528" font-size="27" text-anchor="middle">0.96</text>
<text x="567.1" y="528" font-size="27" text-anchor="middle">0.98</text>
<path transform="translate(692.93 528.00) scale(0.01318 -0.01318)" d="M763 0H583V1147Q518 1085 412.5 1023T223 930V1104Q373 1174.5 485 1275T644 1470H763Z" fill="#000"/>
<text x="707.94" y="528" font-size="27">.00</text>
<path d="M426.8 546.1 C423.8 545.6 421.2 546.4 419.8 548.4 C418.5 550.3 418.9 552.2 420.8 552.9 C422.0 553.5 423.8 553.4 425.2 553.3 C421.6 553.5 418.5 555.0 416.8 557.6 C415.2 560.1 415.5 562.4 417.6 563.5 C419.6 564.5 422.1 564.7 423.2 566.1 C424.2 567.5 422.8 569.1 421.0 570.0 C419.8 570.6 418.5 571.1 417.2 571.8" fill="none" stroke="#000" stroke-width="1.95" stroke-linecap="butt" stroke-linejoin="round"/>
<g transform="translate(25.1 262.6) rotate(-90)"><text x="0" y="0" font-size="26" font-style="italic">n<tspan font-size="18.6" dy="5.3" dx="1.2">s</tspan></text></g>
<line x1="129.2" y1="345.3" x2="164.7" y2="345.3" stroke="#00ff00" stroke-width="3.3" stroke-dasharray="7.1 7.1" stroke-linecap="square"/>
<text x="182.8" y="353.1" font-size="21.5"><tspan font-style="italic">δ</tspan>=<tspan x="219.25">0</tspan><tspan font-size="15.0" dy="-8.5" dx="1.3">−6</tspan></text>
<path transform="translate(207.30 353.10) scale(0.01050 -0.01050)" d="M763 0H583V1147Q518 1085 412.5 1023T223 930V1104Q373 1174.5 485 1275T644 1470H763Z" fill="#000"/>
<line x1="129.2" y1="388.7" x2="164.7" y2="388.7" stroke="#ff0000" stroke-width="3.3" stroke-dasharray="7.1 7.1" stroke-linecap="square"/>
<text x="182.8" y="396.5" font-size="21.5"><tspan font-style="italic">δ</tspan>=<tspan x="219.25">0</tspan><tspan font-size="15.0" dy="-8.5" dx="1.3">−5.042</tspan></text>
<path transform="translate(207.30 396.50) scale(0.01050 -0.01050)" d="M763 0H583V1147Q518 1085 412.5 1023T223 930V1104Q373 1174.5 485 1275T644 1470H763Z" fill="#000"/>
<line x1="129.2" y1="432.1" x2="164.7" y2="432.1" stroke="#000000" stroke-width="3.3" stroke-dasharray="7.1 7.1" stroke-linecap="square"/>
<text x="182.8" y="439.9" font-size="21.5"><tspan font-style="italic">δ</tspan>=<tspan x="219.25">0</tspan><tspan font-size="15.0" dy="-8.5" dx="1.3">−4.509</tspan></text>
<path transform="translate(207.30 439.90) scale(0.01050 -0.01050)" d="M763 0H583V1147Q518 1085 412.5 1023T223 930V1104Q373 1174.5 485 1275T644 1470H763Z" fill="#000"/>
<line x1="129.2" y1="475.4" x2="164.7" y2="475.4" stroke="#0000ff" stroke-width="3.3" stroke-dasharray="7.1 7.1" stroke-linecap="square"/>
<text x="182.8" y="483.2" font-size="21.5"><tspan font-style="italic">δ</tspan>=<tspan x="219.25">0</tspan><tspan font-size="15.0" dy="-8.5" dx="1.3">−3.998</tspan></text>
<path transform="translate(207.30 483.20) scale(0.01050 -0.01050)" d="M763 0H583V1147Q518 1085 412.5 1023T223 930V1104Q373 1174.5 485 1275T644 1470H763Z" fill="#000"/>
</g>
</svg></body></html>
